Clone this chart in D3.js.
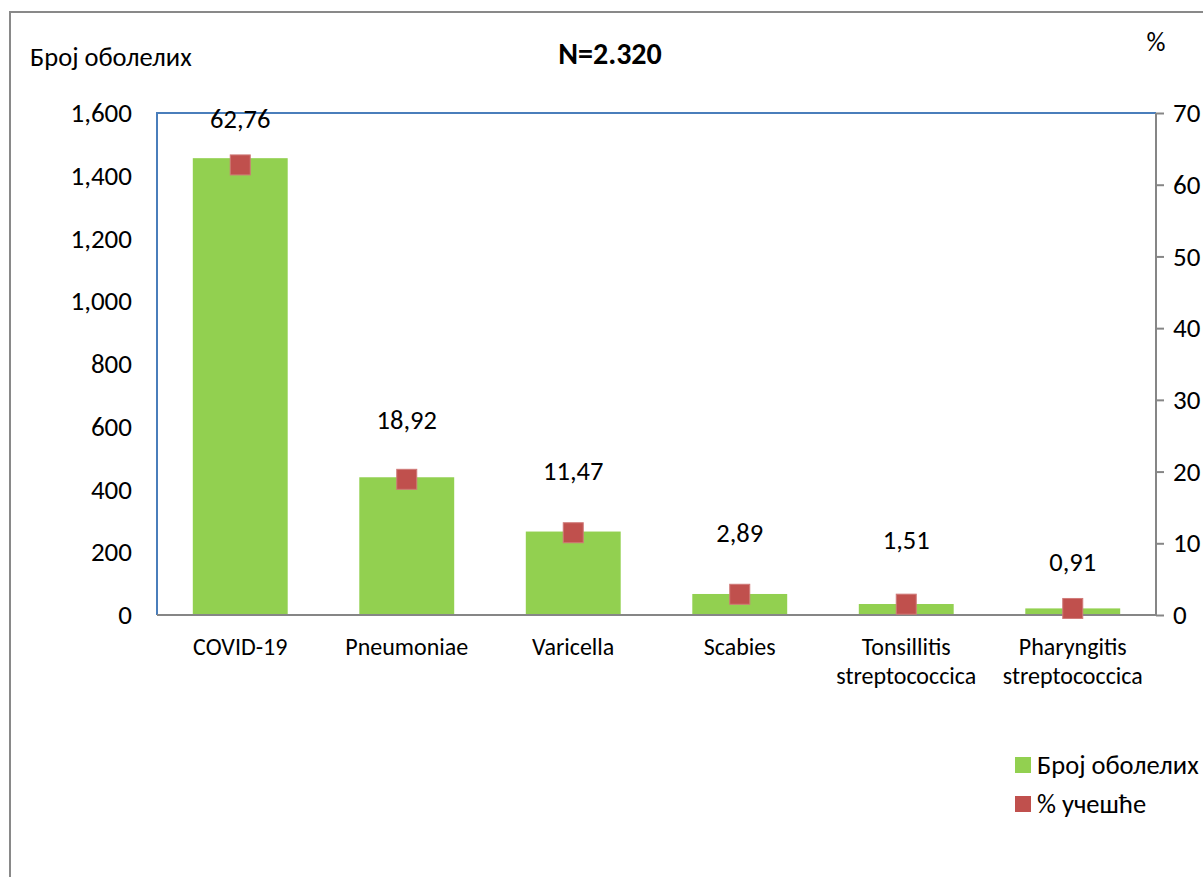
<!DOCTYPE html>
<html>
<head>
<meta charset="utf-8">
<script src="https://cdn.jsdelivr.net/npm/d3@7"></script>
<style>
  html, body { margin: 0; padding: 0; background: #fff; overflow: hidden; }
  svg { display: block; font-family: Carlito, Lato, sans-serif; }
</style>
</head>
<body>
<svg id="chart" width="1203" height="877"></svg>
<script>
// ---- data ----
const categories = ["COVID-19", "Pneumoniae", "Varicella", "Scabies", "Tonsillitis streptococcica", "Pharyngitis streptococcica"];
const categoryLines = [["COVID-19"], ["Pneumoniae"], ["Varicella"], ["Scabies"], ["Tonsillitis", "streptococcica"], ["Pharyngitis", "streptococcica"]];
const counts = [1456, 439, 266, 67, 35, 21];
const percents = [62.76, 18.92, 11.47, 2.89, 1.51, 0.91];
const percentLabels = ["62,76", "18,92", "11,47", "2,89", "1,51", "0,91"];
const leftTicks = [0, 200, 400, 600, 800, 1000, 1200, 1400, 1600];
const rightTicks = [0, 10, 20, 30, 40, 50, 60, 70];
const title = "N=2.320";
const leftAxisTitle = "Број оболелих";
const rightAxisTitle = "%";
const seriesNames = ["Број оболелих", "% учешће"];

// ---- layout ----
const svg = d3.select("#chart");
const plot = { left: 157, right: 1156, top: 113, bottom: 615 };
const labelLift = [46, 60, 62, 62, 64, 47];
const FONT = "Carlito, Lato, sans-serif";

const x = d3.scaleBand().domain(categories).range([plot.left, plot.right])
  .paddingInner(0.43).paddingOuter(0.215);
const yL = d3.scaleLinear().domain([0, 1600]).range([plot.bottom, plot.top]);
const yR = d3.scaleLinear().domain([0, 70]).range([plot.bottom, plot.top]);

// outer chart border
svg.append("path").attr("d", "M10,877 L10,12 L1203,12")
  .attr("fill", "none").attr("stroke", "#898989").attr("stroke-width", 2);

// plot border top + left (blue)
svg.append("path")
  .attr("d", `M${plot.left},${plot.bottom} L${plot.left},${plot.top} L${plot.right},${plot.top}`)
  .attr("fill", "none").attr("stroke", "#4a7ebb").attr("stroke-width", 2);

// bars
svg.append("g").selectAll("rect").data(categories).join("rect")
  .attr("x", d => x(d))
  .attr("width", x.bandwidth())
  .attr("y", (d, i) => yL(counts[i]))
  .attr("height", (d, i) => yL(0) - yL(counts[i]))
  .attr("fill", "#92d050");

// bottom axis line
svg.append("line").attr("x1", plot.left).attr("x2", plot.right)
  .attr("y1", plot.bottom).attr("y2", plot.bottom)
  .attr("stroke", "#868686").attr("stroke-width", 2);

// left axis labels
const gL = svg.append("g").attr("transform", `translate(132,0)`)
  .call(d3.axisLeft(yL).tickValues(leftTicks).tickFormat(d3.format(",")).tickSize(0).tickPadding(0));
gL.select(".domain").remove();
gL.selectAll("text").attr("font-size", 27).attr("font-family", FONT).attr("fill", "#000");

// right axis
const gR = svg.append("g").attr("transform", `translate(${plot.right},0)`)
  .call(d3.axisRight(yR).tickValues(rightTicks).tickSize(8).tickPadding(9));
gR.select(".domain").attr("stroke", "#868686").attr("stroke-width", 2).attr("d", `M0,${plot.top}V${plot.bottom}`);
gR.selectAll(".tick line").attr("stroke", "#868686").attr("stroke-width", 2);
gR.selectAll("text").attr("font-size", 27).attr("font-family", FONT).attr("fill", "#000");

// category labels
const gX = svg.append("g");
categories.forEach((c, i) => {
  const cx = x(c) + x.bandwidth() / 2;
  const t = gX.append("text").attr("x", cx).attr("y", 655)
    .attr("text-anchor", "middle").attr("font-size", 24);
  categoryLines[i].forEach((ln, j) => {
    t.append("tspan").attr("x", cx).attr("dy", j === 0 ? 0 : 29).text(ln);
  });
});

// markers
const ms = 20;
svg.append("g").selectAll("rect").data(categories).join("rect")
  .attr("x", d => x(d) + x.bandwidth() / 2 - ms / 2)
  .attr("y", (d, i) => yR(percents[i]) - ms / 2)
  .attr("width", ms).attr("height", ms)
  .attr("fill", "#c0504d").attr("stroke", "#d07a78").attr("stroke-width", 1);

// percent labels
svg.append("g").selectAll("text").data(categories).join("text")
  .attr("x", d => x(d) + x.bandwidth() / 2)
  .attr("y", (d, i) => yR(percents[i]) - labelLift[i])
  .attr("dy", "0.35em")
  .attr("text-anchor", "middle").attr("font-size", 26.5)
  .text((d, i) => percentLabels[i]);

// titles
svg.append("text").attr("x", 610).attr("y", 53).attr("dy", "0.35em")
  .attr("text-anchor", "middle").attr("font-size", 30).attr("font-weight", "bold").text(title);
svg.append("text").attr("x", 30).attr("y", 57).attr("dy", "0.35em")
  .attr("font-size", 26.5).text(leftAxisTitle);
svg.append("text").attr("x", 1156).attr("y", 42).attr("dy", "0.35em")
  .attr("text-anchor", "middle").attr("font-size", 26.5).text(rightAxisTitle);

// legend
const legend = svg.append("g");
const legColors = ["#92d050", "#c0504d"];
const legY = [765, 804];
seriesNames.forEach((s, i) => {
  legend.append("rect").attr("x", 1015).attr("y", legY[i] - 8).attr("width", 16).attr("height", 16)
    .attr("fill", legColors[i]);
  legend.append("text").attr("x", 1037).attr("y", legY[i]).attr("dy", "0.35em")
    .attr("font-size", 26.5).text(s);
});
</script>
</body>
</html>
